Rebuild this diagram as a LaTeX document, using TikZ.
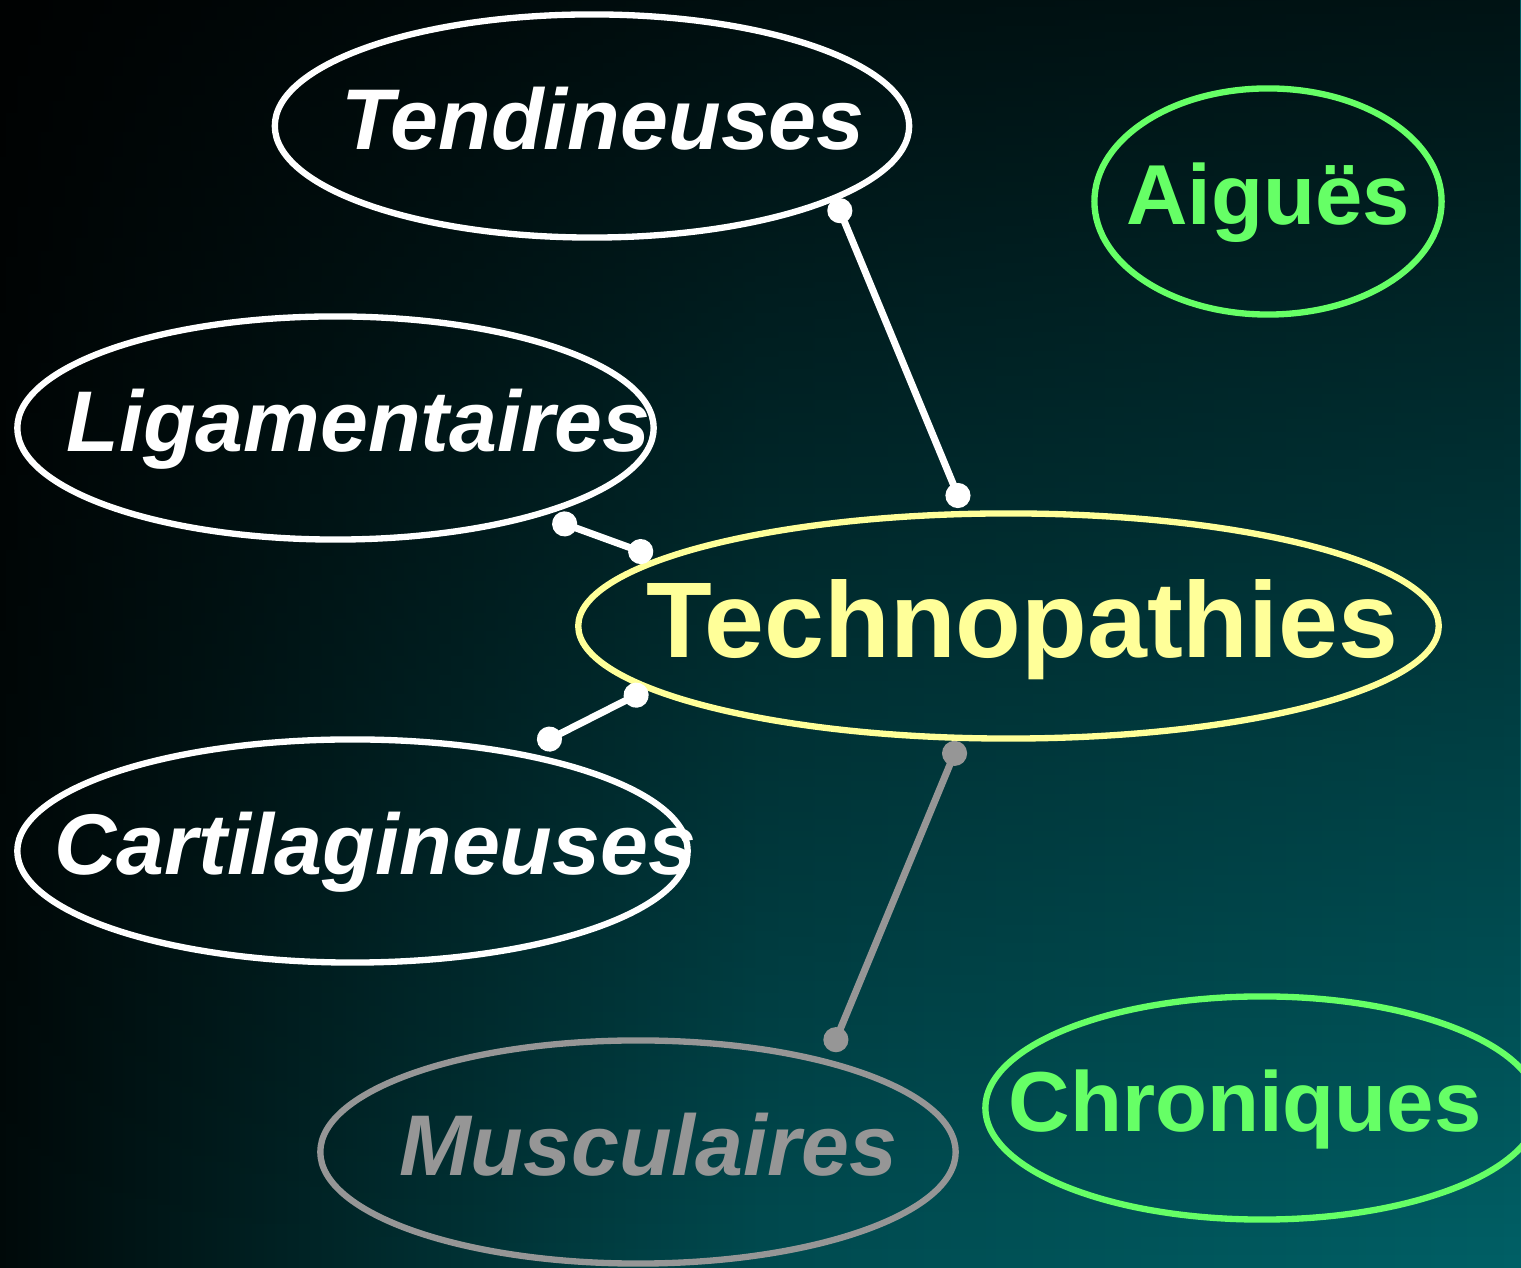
\documentclass[tikz,border=0pt]{standalone}
\usepackage{fontspec}
\setmainfont{Liberation Sans}
\usetikzlibrary{shapes.geometric,arrows.meta,fadings}
\definecolor{fondg}{RGB}{0,10,10}
\definecolor{fondm}{RGB}{0,75,80}
\definecolor{fondd}{RGB}{0,96,102}
\definecolor{jaune}{RGB}{255,255,153}
\definecolor{vert}{RGB}{102,255,102}
\definecolor{gris}{RGB}{150,150,150}
\tikzfading[name=fondhaut, top color=transparent!20, middle color=transparent!75, bottom color=transparent!100]
% texte sans largeur, decale de #1
\newcommand\etiq[2]{\makebox[0pt]{\hspace*{#1}#2}}

\begin{document}
\begin{tikzpicture}[x=0.01cm, y=-0.01cm,
  bulle/.style={ellipse, draw, line width=1.8pt, inner sep=0pt, minimum height=2.23cm,
    text depth=0.15cm, font=\fontsize{24.5}{28}\selectfont\bfseries\itshape},
  droit/.style={font=\fontsize{24.2}{28}\selectfont\bfseries},
  lien/.style={line width=2pt, {Circle[length=0.25cm]}-{Circle[length=0.25cm]}}]
\useasboundingbox (0,0) rectangle (1521,1268);
% --- fond ---
\shade[left color=fondg, right color=fondd, middle color=fondm] (0,0) rectangle (1521,1268);
\fill[black, path fading=fondhaut] (0,0) rectangle (1521,1268);
% --- bulles ---
\node[bulle, white, minimum width=6.34cm] (tend) at (592,126) {\etiq{0.22cm}{Tendineuses}};
\node[bulle, droit, vert, minimum width=3.47cm, minimum height=2.26cm] (aig) at (1268,201.5) {\etiq{0cm}{Aiguës}};
\node[bulle, white, minimum width=6.36cm] (lig) at (335.5,428) {\etiq{0.46cm}{Ligamentaires}};
\node[bulle, jaune, minimum width=8.60cm, minimum height=2.25cm,
  font=\fontsize{30.6}{36}\selectfont\bfseries] (tech) at (1008.5,626) {\etiq{0.28cm}{Technopathies}};
\node[bulle, white, minimum width=6.70cm] (cart) at (352.5,851) {\etiq{0.46cm}{Cartilagineuses}};
\node[bulle, gris, minimum width=6.35cm] (musc) at (638,1152) {\etiq{0.2cm}{Musculaires}};
\node[bulle, droit, vert, minimum width=5.53cm] (chro) at (1262,1108) {\etiq{-0.34cm}{Chroniques}};
% --- liens ---
\foreach \a/\b/\s/\t/\c in {tend.-17.6/tech.111.8/-0.015/0.041/white,
    lig.-23.1/tech.169.3/0.112/0.06/white,
    cart.30/tech.190.1/0.162/-0.005/white,
    tech.247.5/musc.26.1/0.009/0.089/gris}
  \draw[lien, \c, shorten <=\s cm, shorten >=\t cm] (\a) -- (\b);
\end{tikzpicture}
\end{document}
